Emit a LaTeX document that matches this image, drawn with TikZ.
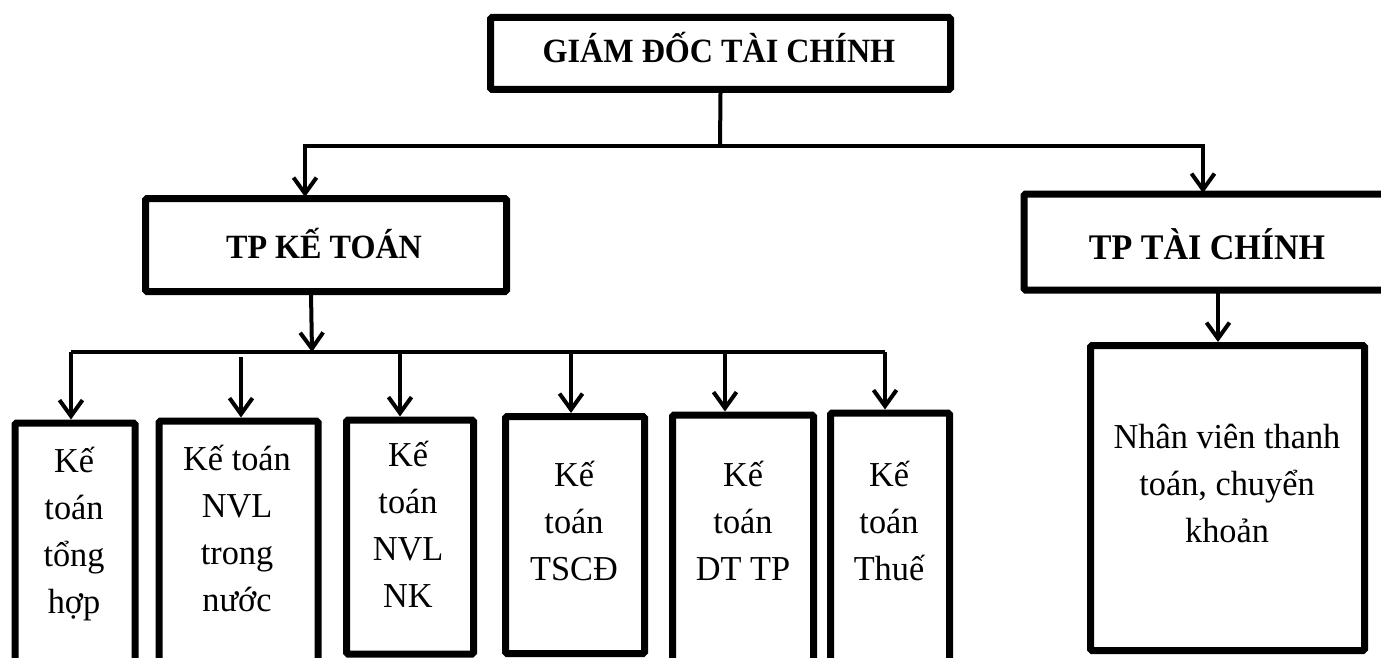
\documentclass[tikz,border=0pt]{standalone}
\usepackage{fontspec}
\setmainfont{Liberation Serif}[FakeStretch=0.98, BoldFeatures={FakeStretch=0.945}]
\usetikzlibrary{arrows.meta}

\begin{document}
\begin{tikzpicture}[
  x=1pt, y=-1pt,
  box/.style={draw, line width=7pt, rectangle, rounded corners=1.5pt, inner sep=0pt},
  title/.style={font=\bfseries\fontsize{34}{40}\selectfont, inner sep=0pt, anchor=base},
  % multi-line text: the base anchor sits on the last line's baseline
  body/.style={font=\fontsize{35}{47}\selectfont, align=center, inner sep=0pt, anchor=base},
  conn/.style={line width=4pt},
  arr/.style={line width=4pt, -{Straight Barb[length=16pt,width=23pt]}}
]
\useasboundingbox (0,0) rectangle (1381,658);
\fill[white] (0,0) rectangle (1381,658);
\clip (0,0) rectangle (1381,658);

% --- boxes ---
\node[box, minimum width=460, minimum height=72] (gd) at (720.5,53.5) {};
\node[box, minimum width=361, minimum height=93] (kt) at (326,245) {};
\node[box, minimum width=400, minimum height=96] (tc) at (1224,242) {};
\node[box, minimum width=274, minimum height=305] (nv) at (1227.5,498) {};

\node[box, minimum width=120, minimum height=300] (b1) at (75,573) {};
\node[box, minimum width=159, minimum height=300] (b2) at (238.5,571) {};
\node[box, minimum width=127, minimum height=234] (b3) at (410,537) {};
\node[box, minimum width=139, minimum height=237] (b4) at (575,535) {};
\node[box, minimum width=141, minimum height=300] (b5) at (743,565) {};
\node[box, minimum width=119, minimum height=300] (b6) at (890,563) {};

% --- texts ---
\node[title] (gdt) at (719,63) {GIÁM ĐỐC TÀI CHÍNH};
\node[title] (ktt) at (324,258) {TP KẾ TOÁN};
\node[title, font=\bfseries\fontsize{36}{40}\selectfont] (tct) at (1207,259) {TP TÀI CHÍNH};

\node[body] (t1) at (74,613) {Kế\\toán\\tổng\\hợp};
\node[body] (t2) at (237,611) {Kế toán\\NVL\\trong\\nước};
\node[body] (t3) at (408,607) {Kế\\toán\\NVL\\NK};
\node[body] (t4) at (574,580) {Kế\\toán\\TSCĐ};
\node[body] (t5) at (743,580) {Kế\\toán\\DT TP};
\node[body] (t6) at (889,580) {Kế\\toán\\Thuế};
\node[body] (t7) at (1227,542) {Nhân viên thanh\\toán, chuyển\\khoản};

% --- junction points ---
\coordinate (j1) at (720,146);
\coordinate (ktin) at (305,197);
\coordinate (tcin) at (1203,193);
\coordinate (ktout) at (311,293);
\coordinate (j2) at (312,352);
\coordinate (busL) at (71,352);
\coordinate (busR) at (885,352);
\coordinate (s1) at (71,352);
\coordinate (s2) at (241,357);
\coordinate (s3) at (400,352);
\coordinate (s4) at (571,352);
\coordinate (s5) at (725,352);
\coordinate (s6) at (885,352);
\coordinate (tcout) at (1218,291);

% --- connectors ---
\draw[conn] (gd.south) -- (j1);
\draw[arr] (j1) -| (ktin);
\draw[arr] (j1) -| (tcin);

\draw[arr] (ktout) -- (j2);
\draw[conn] (busL) -- (busR);
\draw[arr] (s1) -- (s1 |- b1.north);
\draw[arr] (s2) -- (s2 |- b2.north);
\draw[arr] (s3) -- (s3 |- b3.north);
\draw[arr] (s4) -- (s4 |- b4.north);
\draw[arr] (s5) -- (s5 |- b5.north);
\draw[arr] (s6) -- (s6 |- b6.north);

\draw[arr] (tcout) -- (tcout |- nv.north);
\end{tikzpicture}
\end{document}
